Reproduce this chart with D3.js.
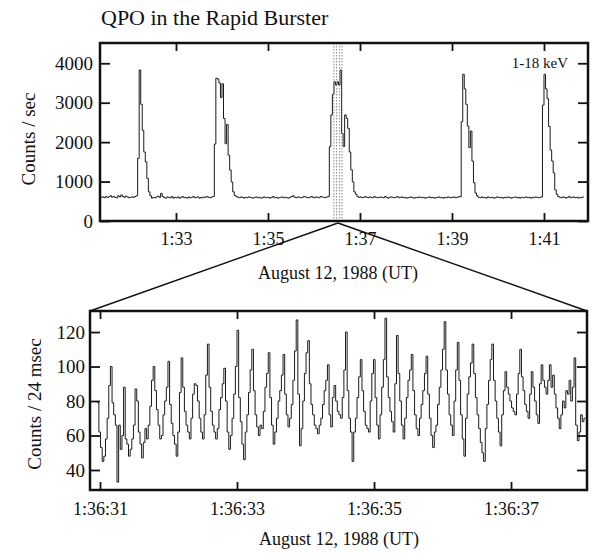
<!DOCTYPE html>
<html><head><meta charset="utf-8">
<script src="https://cdn.jsdelivr.net/npm/d3@7"></script>
<style>
body{margin:0;background:#fff}
text{font-family:"Liberation Serif","Times New Roman",serif;fill:#111}
</style></head>
<body><svg id="c" width="596" height="553"></svg>
<script>
// ---------- DATA ----------
// Upper panel: 1-18 keV light curve, 2-s bins, times in seconds after 1:30:00 UT
const topStart = 82;
const topBin = 2;
const topCounts = [
  600,610,590,620,600,615,640,605,620,600,
  590,640,610,660,620,600,630,610,590,600,
  610,600,620,640,
  1590,3830,2960,2300,1750,1500,1080,740,640,
  580,600,590,610,630,600,700,
  620,590,580,610,600,590,620,580,600,590,
  610,580,600,620,590,600,580,610,590,600,
  620,590,600,610,580,600,590,610,600,620,
  600,590,610,620,
  1950,3620,3600,3500,3130,3480,2600,1960,2450,1670,1290,990,740,650,
  620,600,590,610,600,580,600,590,610,600,590,580,
  600,610,590,600,580,590,610,600,590,600,
  580,600,620,590,600,580,590,600,610,590,
  600,590,580,600,620,640,600,590,610,600,
  590,600,620,610,600,590,600,620,600,590,
  610,600,590,620,610,600,590,610,620,
  1885,2690,3210,3530,3450,3530,3450,3830,2220,1890,2690,2600,2350,1750,1300,990,740,680,
  620,600,610,590,600,620,600,590,610,600,590,620,600,
  590,600,610,600,590,620,600,580,600,610,
  600,590,600,620,590,600,610,590,600,580,
  590,600,610,590,580,600,590,610,600,590,
  600,580,590,600,610,590,600,580,590,600,
  610,590,600,580,600,590,610,600,590,600,
  610,590,600,620,610,
  2520,3720,3350,2960,2410,1860,2280,1520,970,710,640,
  600,590,610,590,
  600,580,610,600,590,600,580,590,610,600,
  590,600,580,600,590,610,600,580,590,600,
  610,590,600,580,600,590,600,610,590,600,
  580,600,590,610,600,590,600,610,
  2940,3720,3350,3100,2400,1800,1520,1220,790,680,620,
  600,590,610,600,580,600,620,590,600,610,590,600,580,600,590,610
];
const topTickSec = [180, 300, 420, 540, 660];
const topTickLabels = ["1:33", "1:35", "1:37", "1:39", "1:41"];
const topYTicks = [0, 1000, 2000, 3000, 4000];
const bandEdges = [386, 389.5, 393.5, 396.5];   // highlighted interval (s after 1:30:00)

// Lower panel: 24 msec bins, times in seconds after 1:36:00 UT
const zoomStart = 30.96;
const zoomBin = 0.024;
const zoomCounts = [
  79,62,53,45, 48,58,70,89,100, 79,72,66,33, 66,52,60,88, 58,55,48,
  52,58,66,87, 80,62,55,47, 56,64,58,66,77,92,100, 86,75,66,58,
  60,72,80,88,103, 78,67,60,55,48, 62,85,105, 88,74,66,62,58,
  70,84,90,89, 80,70,62,58, 72,95,113, 88,74,66,62,58,
  64,75,82,90,99, 80,62,52, 60,70,84,100,121, 82,68,55,46,
  62,72,85,98,110, 86,72,65,60, 66,64,74,88,96,108, 82,66,55,
  62,70,80,86,95,107, 84,72,65, 70,78,92,109,127, 84,54,
  64,80,96,108,115, 90,78,72,66,64,61, 66,70,78,86,92,101,
  72,65,82,89, 80,74,72,70, 82,98,120, 86,70,62,45,
  62,70,82,94,104, 86,74,66,64,62, 80,96,104, 82,66,58,
  72,88,104,128, 94,82,74,68,62, 90,118, 96,80,66,58,
  70,82,92,98,107, 86,72,64,60, 70,78,86,96,106, 84,70,60,53,
  62,66,78,88,98,110,126, 98,84,72,66,60, 80,98,114, 92,72,58,48,
  70,84,94,102,113, 96,82,72,64,56,50,45, 64,78,92,104,113,
  92,80,70,62,54, 72,86,97, 88,84,80,76,74,72, 84,96,110,
  94,86,78,74,70, 84,97, 88,80,72,67, 90,101, 92,88,84,92,101,
  88,95, 84,76,70,64, 72,80,76,86,84,92, 80,88,105, 66,57, 62,72,68,70
];
const zoomTickSec = [31, 33, 35, 37];
const zoomTickLabels = ["1:36:31", "1:36:33", "1:36:35", "1:36:37"];
const zoomYTicks = [40, 60, 80, 100, 120];

// ---------- LAYOUT ----------
const svg = d3.select("#c");
const T = {l: 100, r: 588, t: 43, b: 221};
const B = {l: 90, r: 587, t: 311, b: 490};

const xTop = d3.scaleLinear().domain([80.9, 717.4]).range([T.l, T.r]);
const yTop = d3.scaleLinear().domain([0, 4514]).range([T.b, T.t]);
const xBot = d3.scaleLinear().domain([30.854, 38.109]).range([B.l, B.r]);
const yBot = d3.scaleLinear().domain([28.4, 132.2]).range([B.b, B.t]);

function stepPoints(start, bin, arr) {
  const p = arr.map((c, i) => [start + i * bin, c]);
  p.push([start + arr.length * bin, arr[arr.length - 1]]);
  return p;
}

function panel(box, x, y, xt, xl, yt, xPad, yPad) {
  const g = svg.append("g");
  // bottom axis with labels
  const ax = g.append("g").attr("transform", `translate(0,${box.b})`)
    .call(d3.axisBottom(x).tickValues(xt).tickFormat((d, i) => xl[i]).tickSizeInner(-8).tickSizeOuter(0));
  ax.selectAll("text").attr("y", xPad).attr("dy", 0).style("font-size", "18px");
  // top axis (ticks only)
  g.append("g").attr("transform", `translate(0,${box.t})`)
    .call(d3.axisTop(x).tickValues(xt).tickFormat("").tickSizeInner(-8).tickSizeOuter(0));
  // left axis
  const ay = g.append("g").attr("transform", `translate(${box.l},0)`)
    .call(d3.axisLeft(y).tickValues(yt).tickFormat(d3.format("d")).tickSizeInner(-10).tickSizeOuter(0).tickPadding(yPad));
  ay.selectAll("text").style("font-size", "19px");
  // right axis (ticks only)
  g.append("g").attr("transform", `translate(${box.r},0)`)
    .call(d3.axisRight(y).tickValues(yt).tickFormat("").tickSizeInner(-10).tickSizeOuter(0));
  g.selectAll(".domain").remove();
  g.selectAll(".tick line").attr("stroke", "#111").attr("stroke-width", 1.8);
  g.selectAll(".tick text").attr("fill", "#111").style("font-family", '"Liberation Serif","Times New Roman",serif');
  return g;
}

// ---------- UPPER PANEL ----------
svg.append("text").attr("x", 101).attr("y", 25).style("font-size", "22px").text("QPO in the Rapid Burster");

const line = (x, y) => d3.line().x(d => x(d[0])).y(d => y(d[1])).curve(d3.curveStepAfter);

svg.append("path")
  .datum(stepPoints(topStart, topBin, topCounts))
  .attr("d", line(xTop, yTop))
  .attr("fill", "none").attr("stroke", "#1a1a1a").attr("stroke-width", 1);

// highlighted interval (dotted double lines)
svg.append("g").selectAll("line").data(bandEdges).join("line")
  .attr("x1", d => xTop(d)).attr("x2", d => xTop(d))
  .attr("y1", T.t).attr("y2", T.b)
  .attr("stroke", "#888").attr("stroke-width", 1).attr("stroke-dasharray", "1.5,1.5");

panel(T, xTop, yTop, topTickSec, topTickLabels, topYTicks, 24, 7);

svg.append("rect").attr("x", T.l).attr("y", T.t).attr("width", T.r - T.l).attr("height", T.b - T.t)
  .attr("fill", "none").attr("stroke", "#111").attr("stroke-width", 2.5);

svg.append("text").attr("x", 568).attr("y", 68).attr("text-anchor", "end")
  .style("font-size", "15px").text("1-18 keV");

svg.append("text").attr("transform", "translate(35,139) rotate(-90)").attr("text-anchor", "middle")
  .style("font-size", "19px").text("Counts / sec");

svg.append("text").attr("x", 338).attr("y", 279).attr("text-anchor", "middle")
  .style("font-size", "18px").text("August 12, 1988 (UT)");

// ---------- LOWER PANEL ----------
svg.append("path")
  .datum(stepPoints(zoomStart, zoomBin, zoomCounts))
  .attr("d", line(xBot, yBot))
  .attr("fill", "none").attr("stroke", "#1a1a1a").attr("stroke-width", 1);

panel(B, xBot, yBot, zoomTickSec, zoomTickLabels, zoomYTicks, 25, 5);

svg.append("rect").attr("x", B.l).attr("y", B.t).attr("width", B.r - B.l).attr("height", B.b - B.t)
  .attr("fill", "none").attr("stroke", "#111").attr("stroke-width", 2.5);

svg.append("text").attr("transform", "translate(41,404) rotate(-90)").attr("text-anchor", "middle")
  .style("font-size", "19px").text("Counts / 24 msec");

svg.append("text").attr("x", 339).attr("y", 545).attr("text-anchor", "middle")
  .style("font-size", "18px").text("August 12, 1988 (UT)");

// ---------- ZOOM CONNECTORS ----------
const bandMid = xTop((bandEdges[0] + bandEdges[bandEdges.length - 1]) / 2);
svg.append("g").selectAll("line").data([B.l, B.r]).join("line")
  .attr("x1", bandMid).attr("y1", T.b + 2)
  .attr("x2", d => d).attr("y2", B.t)
  .attr("stroke", "#111").attr("stroke-width", 1.4);
</script></body></html>
